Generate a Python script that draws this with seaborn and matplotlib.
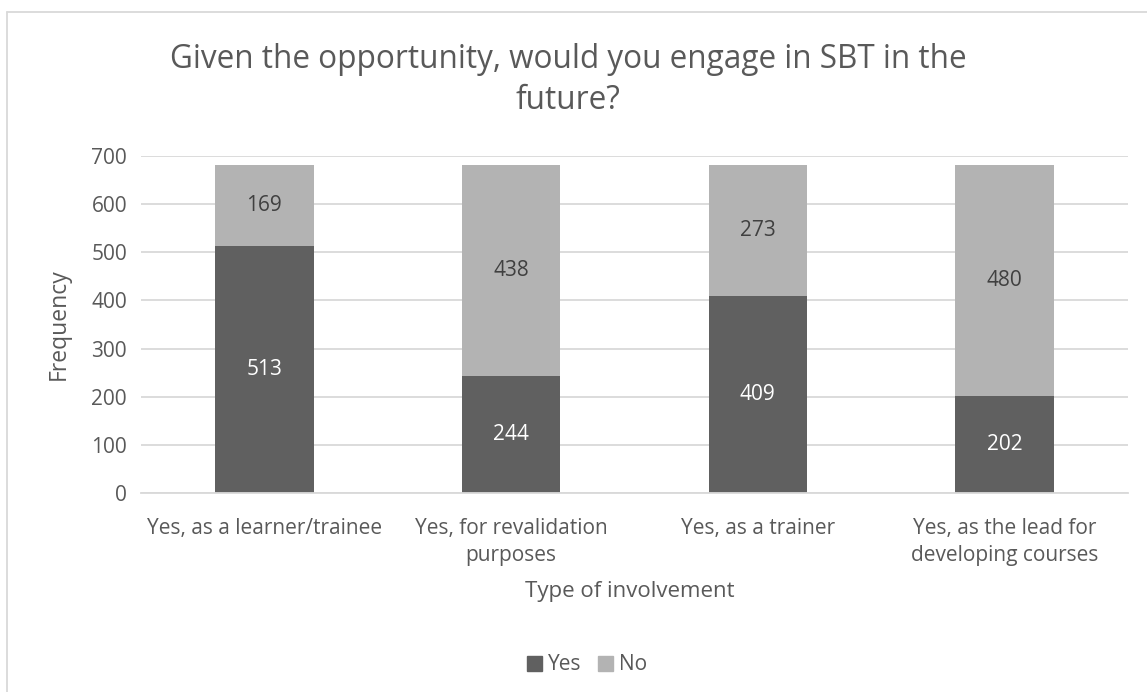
import pandas as pd
import matplotlib.pyplot as plt
import seaborn as sns
from matplotlib.lines import Line2D
from matplotlib.patches import Patch

# Datos
categories = ["Yes, as a learner/trainee", "Yes, for revalidation\npurposes",
              "Yes, as a trainer", "Yes, as the lead for\ndeveloping courses"]
yes_counts = [513, 244, 409, 202]
no_counts = [169, 438, 273, 480]

DARK = "#606060"
LIGHT = "#b3b3b3"
TEXT = "#595959"
GRID = "#d9d9d9"

sns.set_style("white")
plt.rcParams['font.family'] = ['Open Sans', 'DejaVu Sans']

df = pd.DataFrame({"cat": categories, "yes": yes_counts, "no": no_counts})
df["total"] = df["yes"] + df["no"]

fig = plt.figure(figsize=(11.47, 6.92), dpi=100)
ax = fig.add_axes([141 / 1147, 1 - 493 / 692, (1128 - 141) / 1147, (493 - 156) / 692])

# Barras apiladas: total (No) detrás y Yes delante
sns.barplot(data=df, x="cat", y="total", color=LIGHT, width=0.4, saturation=1,
            linewidth=0, ax=ax)
sns.barplot(data=df, x="cat", y="yes", color=DARK, width=0.4, saturation=1,
            linewidth=0, ax=ax)

# Etiquetas de valores
for i, (y, n) in enumerate(zip(yes_counts, no_counts)):
    ax.text(i, y / 2, str(y), ha="center", va="center", color="white", fontsize=15)
    ax.text(i, y + n / 2, str(n), ha="center", va="center", color="#404040", fontsize=15)

ax.set_ylim(0, 700)
ax.set_xlim(-0.5, 3.5)
ax.set_yticks(range(0, 701, 100))
ax.yaxis.grid(True, color=GRID, linewidth=1.3)
ax.set_axisbelow(True)
for s in ["top", "right", "left"]:
    ax.spines[s].set_visible(False)
ax.spines["bottom"].set_color(GRID)
ax.spines["bottom"].set_linewidth(1.3)
ax.tick_params(axis="y", length=0, labelsize=15, colors=TEXT, pad=10)
ax.tick_params(axis="x", length=0, labelsize=15, colors=TEXT, pad=18)
for lbl in ax.get_xticklabels():
    lbl.set_linespacing(1.35)

ax.set_xlabel("")
ax.set_ylabel("")
fig.text(59 / 1147, 1 - 324 / 692, "Frequency", rotation=90, ha="center", va="center",
         fontsize=16.5, color=TEXT)
fig.text(630 / 1147, 1 - 592 / 692, "Type of involvement", ha="center", va="center",
         fontsize=16, color=TEXT)
fig.text(568 / 1147, 1 - 80 / 692, "Given the opportunity, would you engage in SBT in the\nfuture?",
         ha="center", va="center", fontsize=22.7, color=TEXT, linespacing=1.35)

handles = [Patch(color=DARK, label="Yes"), Patch(color=LIGHT, label="No")]
fig.legend(handles=handles, loc="center", bbox_to_anchor=(587 / 1147, 1 - 665 / 692), ncol=2,
           frameon=False, fontsize=15, handlelength=0.7, handleheight=0.7,
           handletextpad=0.3, columnspacing=0.8, labelcolor=TEXT)

# Borde del área del gráfico
fig.add_artist(Line2D([7.5 / 1147, 7.5 / 1147], [0, 1 - 11.5 / 692], color=GRID, linewidth=1.3))
fig.add_artist(Line2D([7.5 / 1147, 1], [1 - 11.5 / 692, 1 - 11.5 / 692], color=GRID, linewidth=1.3))

fig.savefig("out.png", dpi=100, facecolor="white")
